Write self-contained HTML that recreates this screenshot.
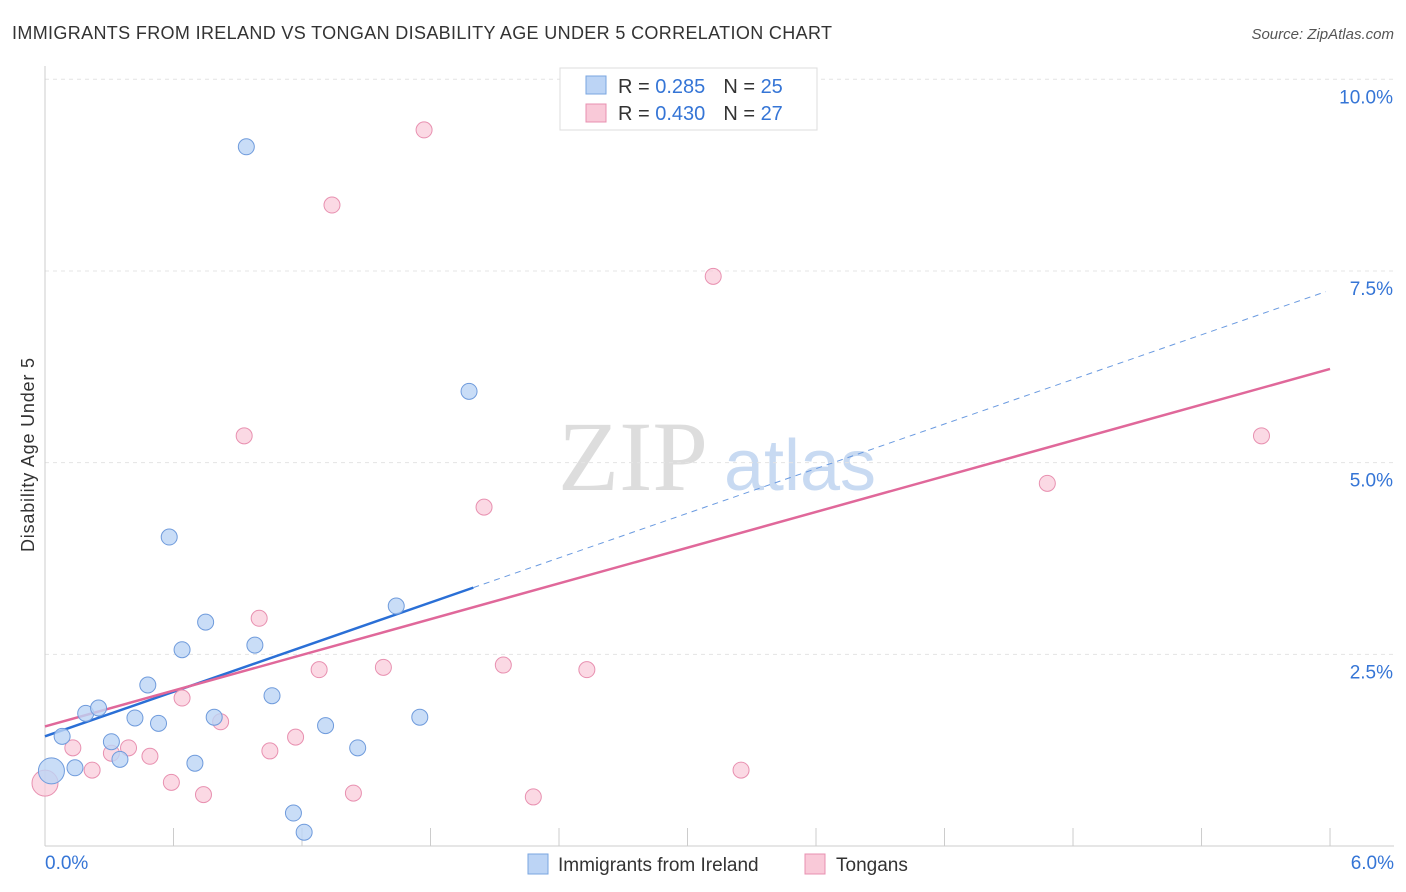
<!DOCTYPE html>
<html><head><meta charset="utf-8"><style>
body{margin:0;background:#fff;font-family:"Liberation Sans",sans-serif;}
#wrap{position:relative;width:1406px;height:892px;overflow:hidden;}
</style></head><body>
<div id="wrap">
<svg id="svg" width="1406" height="892" xmlns="http://www.w3.org/2000/svg" font-family="Liberation Sans, sans-serif">
<text x="12" y="39" font-size="18" fill="#333" textLength="820" lengthAdjust="spacing">IMMIGRANTS FROM IRELAND VS TONGAN DISABILITY AGE UNDER 5 CORRELATION CHART</text>
<text x="1394" y="39" font-size="15" fill="#555" font-style="italic" text-anchor="end">Source: ZipAtlas.com</text>
<text transform="translate(34,455) rotate(-90)" font-size="18" fill="#333" text-anchor="middle" textLength="194">Disability Age Under 5</text>
<g>
<text x="633" y="490" font-size="100" font-family="Liberation Serif, serif" fill="#ddd" text-anchor="middle">ZIP</text>
<text x="800" y="490" font-size="72" fill="#c8daf2" text-anchor="middle">atlas</text>
</g>
<g id="grid"></g><g id="lines"></g><g id="pts"></g>
<g>
<rect x="560" y="68" width="257" height="62" fill="#fff" stroke="#ddd"/>
<rect x="586" y="76" width="20" height="18" fill="#bcd4f5" stroke="#7aa6e0"/>
<rect x="586" y="104" width="20" height="18" fill="#f9c9d8" stroke="#e890b0"/>
<text x="618" y="93" font-size="20" fill="#333">R = <tspan fill="#3575d6">0.285</tspan><tspan dx="18">N = </tspan><tspan fill="#3575d6">25</tspan></text>
<text x="618" y="120" font-size="20" fill="#333">R = <tspan fill="#3575d6">0.430</tspan><tspan dx="18">N = </tspan><tspan fill="#3575d6">27</tspan></text>
</g>
<g>
<rect x="528" y="854" width="20" height="20" fill="#bcd4f5" stroke="#7aa6e0"/>
<text x="558" y="871" font-size="19" fill="#333">Immigrants from Ireland</text>
<rect x="805" y="854" width="20" height="20" fill="#f9c9d8" stroke="#e890b0"/>
<text x="836" y="871" font-size="19" fill="#333">Tongans</text>
</g>
</svg>
</div>
<script>
const yTicks=[2.5,5.0,7.5,10.0];
const blueX=[0.03,0.14,0.08,0.19,0.25,0.31,0.35,0.42,0.48,0.53,0.58,0.64,0.70,0.75,0.79,0.94,0.98,1.06,1.16,1.21,1.31,1.46,1.64,1.75,1.98];
const blueY=[0.98,1.02,1.43,1.73,1.80,1.36,1.13,1.67,2.10,1.60,4.03,2.56,1.08,2.92,1.68,9.12,2.62,1.96,0.43,0.18,1.57,1.28,3.13,1.68,5.93];
const pinkX=[0,0.13,0.22,0.31,0.39,0.49,0.59,0.64,0.74,0.82,0.93,1.00,1.05,1.17,1.28,1.34,1.44,1.58,1.77,2.05,2.14,2.28,2.53,3.12,3.25,4.68,5.68];
const pinkY=[0.82,1.28,0.99,1.21,1.28,1.17,0.83,1.93,0.67,1.62,5.35,2.97,1.24,1.42,2.30,8.36,0.69,2.33,9.34,4.42,2.36,0.64,2.30,7.43,0.99,4.73,5.35];
const blueLine=[1.43,0.97]; const pinkLine=[1.56,0.777];
const X=v=>45+v*214.17, Y=v=>846-v*76.67;
const NS="http://www.w3.org/2000/svg";
function mk(t,a,p){const e=document.createElementNS(NS,t);for(const k in a)e.setAttribute(k,a[k]);p.appendChild(e);return e;}
const g=document.getElementById('grid');
yTicks.forEach(t=>{
 const l=mk('line',{x1:45,x2:1394,y1:Y(t),y2:Y(t),stroke:'#e4e4e4','stroke-dasharray':'4,4'},g);
 
 
 const tx=mk('text',{x:1393,y:Y(t)+24,'font-size':19,fill:'#3575d6','text-anchor':'end'},g);
 tx.textContent=t.toFixed(1)+'%';
 
 
});
mk('line',{x1:45,x2:45,y1:66,y2:846,stroke:'#ccc'},g);
mk('line',{x1:45,x2:1394,y1:846,y2:846,stroke:'#ccc'},g);
for(let i=0;i<=10;i++){const x=X(i*0.6);const t=mk('line',{x1:x,x2:x,y1:828,y2:846,stroke:'#ccc'},g);
 
 }
const a=mk('text',{x:45,y:869,'font-size':19,fill:'#3575d6'},g);a.textContent='0.0%';


const b=mk('text',{x:1394,y:869,'font-size':19,fill:'#3575d6','text-anchor':'end'},g);b.textContent='6.0%';


const L=document.getElementById('lines');
let e=mk('line',{x1:X(0),y1:Y(blueLine[0]),x2:X(2.0),y2:Y(blueLine[0]+blueLine[1]*2.0),stroke:'#2a6fd6','stroke-width':2.5},L);


e=mk('line',{x1:X(2.0),y1:Y(blueLine[0]+blueLine[1]*2.0),x2:X(5.98),y2:Y(blueLine[0]+blueLine[1]*5.98),stroke:'#6a9ae0','stroke-width':1,'stroke-dasharray':'6,5'},L);


e=mk('line',{x1:X(0),y1:Y(pinkLine[0]),x2:X(6),y2:Y(pinkLine[0]+pinkLine[1]*6),stroke:'#e0689a','stroke-width':2.5},L);


const P=document.getElementById('pts');
pinkX.forEach((v,i)=>{const c=mk('circle',{cx:X(v),cy:Y(pinkY[i]),r:i==0?13:8,fill:'#f9c9d8','fill-opacity':0.7,stroke:'#e890b0'},P);
 
 });
blueX.forEach((v,i)=>{const c=mk('circle',{cx:X(v),cy:Y(blueY[i]),r:i==0?13:8,fill:'#bcd4f5','fill-opacity':0.8,stroke:'#6f9bdc'},P);
 
 });
</script>
</body></html>
